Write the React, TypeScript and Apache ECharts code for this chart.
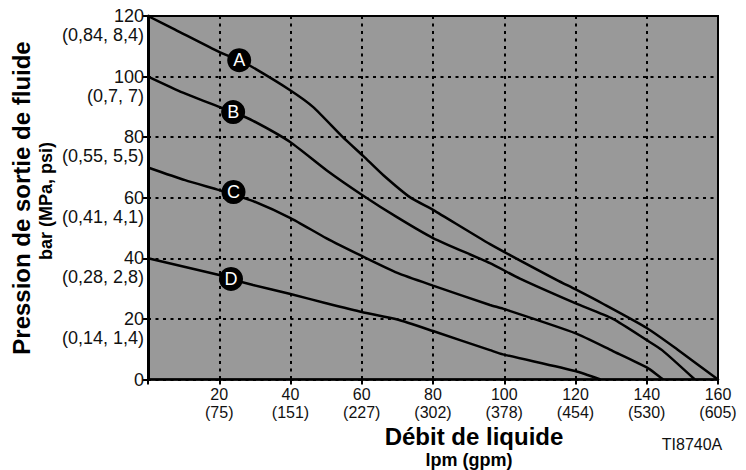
import React, { useEffect, useRef } from "react";
import * as echarts from "echarts";

const FONT = '"Liberation Sans", Arial, sans-serif';

const curveA = [[0,120],[7.6,115.5],[20.2,108],[25.6,105.4],[29.5,103],[39.9,95.5],[46.3,90],[54.7,80],[60.4,73.8],[66,67.5],[73.5,60.2],[80,56],[96,44.7],[114.8,32.8],[119.9,29.8],[127.7,25],[140,17],[148.5,10],[160,0]];
const curveB = [[0,100],[9.8,94.7],[20,90],[23.9,88.3],[29.5,85.4],[39.9,78.4],[50.2,69],[60,61],[70,53.5],[80,46.7],[96,38.4],[104.4,33.3],[119.9,25.2],[130.5,20],[140,13],[144.3,9.7],[153.5,0]];
const curveC = [[0,70],[10.4,65.8],[20,62.5],[24,61],[29.5,58.9],[40,53.3],[50,46.7],[60,40.8],[70,35.2],[80,31],[96,24.6],[99.6,23.4],[119.9,15.3],[130.5,9.4],[140,4],[144.6,0]];
const curveD = [[0,40],[20,34.5],[23.3,33.2],[29.5,31.2],[40,28.2],[50,25.2],[60,22.3],[70,19.8],[80,16],[96,9.7],[99.6,8.3],[119.9,2.8],[127,0]];

const badges = [
  { name: "A", value: [25.6, 105.4] },
  { name: "B", value: [23.9, 88.3] },
  { name: "C", value: [24, 61.9] },
  { name: "D", value: [23.3, 33.2] },
];

const xSecondary: Record<number, string> = { 20: "(75)", 40: "(151)", 60: "(227)", 80: "(302)", 100: "(378)", 120: "(454)", 140: "(530)", 160: "(605)" };
const ySecondary: Record<number, string> = { 20: "(0,14, 1,4)", 40: "(0,28, 2,8)", 60: "(0,41, 4,1)", 80: "(0,55, 5,5)", 100: "(0,7, 7)", 120: "(0,84, 8,4)" };

const yTitle = "Pression de sortie de fluide";
const yUnit = "bar (MPa, psi)";
const xTitle = "Débit de liquide";
const xUnit = "lpm (gpm)";
const reference = "TI8740A";

const curveSeries = (data: number[][]) => ({
  type: "line",
  data,
  showSymbol: false,
  smooth: 0.2,
  silent: true,
  lineStyle: { color: "#000", width: 2.5 },
  z: 3,
});

export default function App() {
  const ref = useRef<HTMLDivElement>(null);
  useEffect(() => {
    const chart = echarts.init(ref.current!, null, { renderer: "svg" });
    const gridLine = { show: true, lineStyle: { color: "#000", width: 2, type: [3, 4.5] as any } };
    const tick = { show: true, length: 5, lineStyle: { color: "#000", width: 2 } };
    chart.setOption({
      animation: false,
      textStyle: { fontFamily: FONT },
      grid: { left: 148, right: 28, top: 16, bottom: 90.5, show: true, backgroundColor: "#999999", borderColor: "#000", borderWidth: 2, outerBoundsMode: "none", containLabel: false },
      xAxis: {
        type: "value", min: 0, max: 160, interval: 20,
        axisLine: { show: true, lineStyle: { color: "#000", width: 2.5 } },
        axisTick: tick,
        splitLine: gridLine,
        axisLabel: {
          margin: 6, color: "#111", fontSize: 16, fontFamily: FONT, lineHeight: 18, showMinLabel: true,
          formatter: (v: number) => (v === 0 ? "" : `${v}\n${xSecondary[v]}`),
        },
      },
      yAxis: {
        type: "value", min: 0, max: 120, interval: 20,
        axisLine: { show: true, lineStyle: { color: "#000", width: 3 } },
        axisTick: tick,
        splitLine: gridLine,
        axisLabel: {
          margin: 4, color: "#111", fontSize: 18, fontFamily: FONT, lineHeight: 19, align: "right",
          formatter: (v: number) => (v === 0 ? "0" : ` \n${v}\n${ySecondary[v]}`),
        },
      },
      series: [
        curveSeries(curveA), curveSeries(curveB), curveSeries(curveC), curveSeries(curveD),
        {
          type: "scatter", data: badges, symbol: "circle", symbolSize: 24, silent: true, z: 5,
          itemStyle: { color: "#000", opacity: 1 },
          label: { show: true, position: "inside", formatter: "{b}", color: "#fff", fontSize: 18, fontFamily: FONT },
        },
      ],
      graphic: [
        { type: "text", x: 21, y: 198, rotation: Math.PI / 2, style: { text: yTitle, font: `bold 24px ${FONT}`, fill: "#000", align: "center", verticalAlign: "middle" } },
        { type: "text", x: 46, y: 201, rotation: Math.PI / 2, style: { text: yUnit, font: `bold 18px ${FONT}`, fill: "#000", align: "center", verticalAlign: "middle" } },
        { type: "text", x: 474, y: 436, style: { text: xTitle, font: `bold 24px ${FONT}`, fill: "#000", align: "center", verticalAlign: "middle" } },
        { type: "text", x: 469, y: 460, style: { text: xUnit, font: `bold 18px ${FONT}`, fill: "#000", align: "center", verticalAlign: "middle" } },
        { type: "text", x: 692, y: 444, style: { text: reference, font: `16px ${FONT}`, fill: "#111", align: "center", verticalAlign: "middle" } },
      ],
    });
    return () => chart.dispose();
  }, []);
  return <div ref={ref} style={{ position: "fixed", left: 0, top: 0, width: 746, height: 470, background: "#fff" }} />;
}
